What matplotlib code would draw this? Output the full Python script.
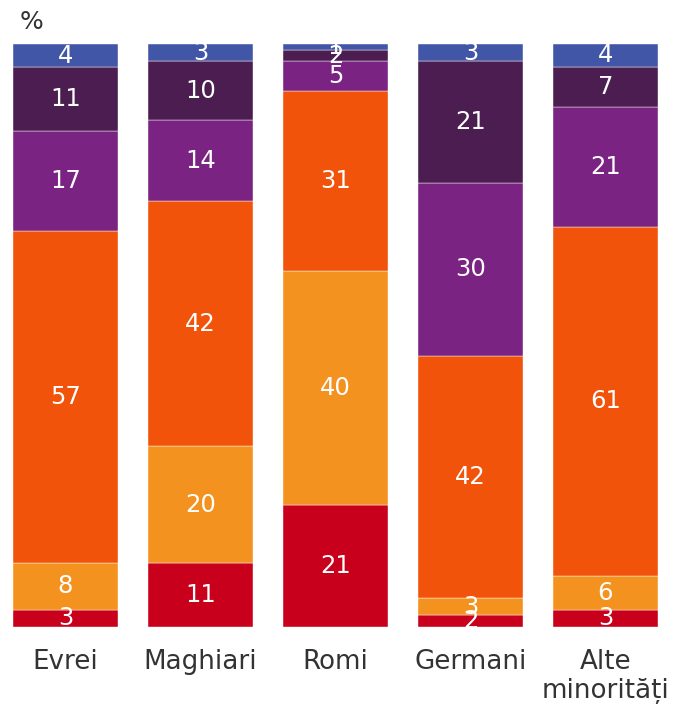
import numpy as np
import matplotlib
matplotlib.use('Agg')
import matplotlib.pyplot as plt

categories = ['Evrei', 'Maghiari', 'Romi', 'Germani', 'Alte\nminorități']
# segments from bottom to top
seg1 = [3, 11, 21, 2, 3]
seg2 = [8, 20, 40, 3, 6]
seg3 = [57, 42, 31, 42, 61]
seg4 = [17, 14, 5, 30, 21]
seg5 = [11, 10, 2, 21, 7]
seg6 = [4, 3, 1, 3, 4]

colors = ['#C8001C', '#F4921F', '#F05309', '#7A2382', '#4B1D50', '#4256A8']

series = np.array([seg1, seg2, seg3, seg4, seg5, seg6], dtype=float)
totals = series.sum(axis=0)
shares = series / totals * 100

fig = plt.figure(figsize=(6.73, 7.09), dpi=100)
ax = fig.add_axes([13 / 673, 82 / 709, 645 / 673, 583 / 709])

x = np.arange(len(categories))
bottom = np.zeros(len(categories))
for vals, share, col in zip(series, shares, colors):
    ax.bar(x, share, bottom=bottom, width=105 / 135, color=col,
           edgecolor='white', linewidth=0.3)
    for xi, v, s, b in zip(x, vals, share, bottom):
        ax.text(xi, b + s / 2, f'{int(v)}', ha='center', va='center',
                color='white', fontsize=17.5)
    bottom += share

ax.set_xlim(-0.5 + 15 / 135, len(categories) - 0.5 - 15 / 135)
ax.set_ylim(0, 100)
ax.set_yticks([])
ax.set_xticks(x)
ax.set_xticklabels(categories, fontsize=18.8, color='#333333', linespacing=1.15)
ax.tick_params(axis='x', length=0, pad=16)
for sp in ax.spines.values():
    sp.set_visible(False)

fig.text(20 / 673, 1 - 22 / 709, '%', fontsize=18, color='#333333',
         ha='left', va='center')

fig.savefig('out.png', dpi=100)
